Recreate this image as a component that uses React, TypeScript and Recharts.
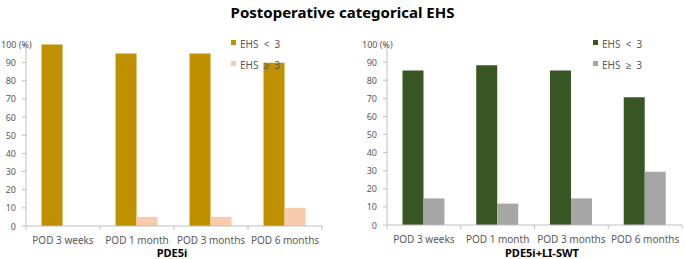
import { BarChart, Bar, XAxis, YAxis } from "recharts";

const categories = ["POD 3 weeks", "POD 1 month", "POD 3 months", "POD 6 months"];
const seriesNames = ["EHS  <  3", "EHS  \u2265  3"];

// PDE5i group (%)
const pde5iBelow3 = [100, 95, 95, 90];
const pde5iAbove3 = [0, 5, 5, 10];

// PDE5i + LI-SWT group (%)
const comboBelow3 = [85.3, 88.2, 85.3, 70.6];
const comboAbove3 = [14.7, 11.8, 14.7, 29.4];

const yTicks = [0, 10, 20, 30, 40, 50, 60, 70, 80, 90, 100];

const FONT = "'Noto Sans', 'Liberation Sans', sans-serif";
const AXIS_GRAY = "#bfbfbf";
const TEXT_GRAY = "#595959";

const YTick = ({ x, y, payload }: any) =>
  payload.value === 100 ? (
    <text x={x - 15} y={y} dy={3.5} textAnchor="start" fontSize={9} fill={TEXT_GRAY} fontFamily={FONT}>
      100 (%)
    </text>
  ) : (
    <text x={x} y={y} dy={3.5} textAnchor="end" fontSize={9} fill={TEXT_GRAY} fontFamily={FONT}>
      {payload.value}
    </text>
  );

const XTick = ({ x, y, payload, index }: any) => {
  const half = payload.offset ?? 37;
  return (
    <g>
      <line x1={x - half} x2={x - half} y1={y} y2={y + 4} stroke={AXIS_GRAY} />
      {index === categories.length - 1 && (
        <line x1={x + half} x2={x + half} y1={y} y2={y + 4} stroke={AXIS_GRAY} />
      )}
      <text x={x} y={y + 18} textAnchor="middle" fontSize={10} fill={TEXT_GRAY} fontFamily={FONT}>
        {payload.value}
      </text>
    </g>
  );
};

function LegendBox({ colors, left, top }: { colors: string[]; left: number; top: number }) {
  return (
    <div style={{ position: "absolute", left, top, fontFamily: FONT, fontSize: 10, color: TEXT_GRAY }}>
      {seriesNames.map((name, i) => (
        <div key={name} style={{ display: "flex", alignItems: "center", height: 21.5, whiteSpace: "pre" }}>
          <span style={{ display: "inline-block", width: 5, height: 5, background: colors[i], marginRight: 4, marginTop: -3 }} />
          {name}
        </div>
      ))}
    </div>
  );
}

function GroupChart({
  below,
  above,
  colors,
  width,
  yAxisWidth,
  marginRight,
  top,
  xHeight,
}: {
  below: number[];
  above: number[];
  colors: string[];
  width: number;
  yAxisWidth: number;
  marginRight: number;
  top: number;
  xHeight: number;
}) {
  const data = categories.map((cat, i) => ({ cat, below: below[i], above: above[i] }));
  return (
    <BarChart
      width={width}
      height={259}
      data={data}
      margin={{ top, right: marginRight, bottom: 0, left: 0 }}
      barCategoryGap="21%"
      barGap={0}
    >
      <XAxis
        dataKey="cat"
        height={xHeight}
        interval={0}
        tickSize={0}
        tickMargin={0}
        tickLine={false}
        axisLine={{ stroke: AXIS_GRAY }}
        tick={<XTick />}
      />
      <YAxis
        width={yAxisWidth}
        domain={[0, 100]}
        ticks={yTicks}
        interval={0}
        tickSize={4}
        tickMargin={6}
        tickLine={{ stroke: AXIS_GRAY }}
        axisLine={{ stroke: AXIS_GRAY }}
        tick={<YTick />}
      />
      <Bar dataKey="below" fill={colors[0]} isAnimationActive={false} />
      <Bar dataKey="above" fill={colors[1]} isAnimationActive={false} />
    </BarChart>
  );
}

export default function App() {
  const leftColors = ["#bf9000", "#f8cbad"];
  const rightColors = ["#375623", "#a6a6a6"];
  return (
    <div style={{ position: "absolute", left: 0, top: 0, width: 685, height: 259, background: "#fff", overflow: "hidden" }}>
      <div
        style={{
          position: "absolute",
          left: 0,
          width: 685,
          top: 2,
          textAlign: "center",
          fontFamily: FONT,
          fontWeight: 700,
          fontSize: 15,
          color: "#000",
        }}
      >
        Postoperative categorical EHS
      </div>

      <div style={{ position: "absolute", left: 0, top: 0 }}>
        <GroupChart
          below={pde5iBelow3}
          above={pde5iAbove3}
          colors={leftColors}
          width={340}
          yAxisWidth={26}
          marginRight={18}
          top={44.5}
          xHeight={33}
        />
      </div>
      <div style={{ position: "absolute", left: 340, top: 0 }}>
        <GroupChart
          below={comboBelow3}
          above={comboAbove3}
          colors={rightColors}
          width={345}
          yAxisWidth={47}
          marginRight={3}
          top={44}
          xHeight={34}
        />
      </div>

      <LegendBox colors={leftColors} left={231} top={33} />
      <LegendBox colors={rightColors} left={593} top={33} />

      <div style={{ position: "absolute", left: 132, width: 80, top: 245, textAlign: "center", fontFamily: FONT, fontWeight: 700, fontSize: 11, color: "#000" }}>
        PDE5i
      </div>
      <div style={{ position: "absolute", left: 482, width: 120, top: 245, textAlign: "center", fontFamily: FONT, fontWeight: 700, fontSize: 11, color: "#000" }}>
        PDE5i+LI-SWT
      </div>
    </div>
  );
}
